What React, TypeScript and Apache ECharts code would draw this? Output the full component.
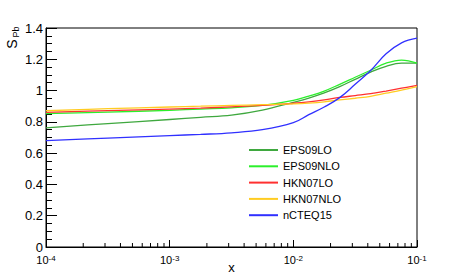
import React, { useEffect, useRef } from "react";
import * as echarts from "echarts";

const xValues = [1e-4, 3.162e-4, 1e-3, 1.778e-3, 3.162e-3, 5.623e-3, 1e-2, 1.334e-2, 1.778e-2, 2.371e-2, 3.162e-2, 4.217e-2, 5.623e-2, 7.499e-2, 1e-1];
const eps09lo = [0.761, 0.789, 0.815, 0.829, 0.843, 0.875, 0.925, 0.952, 0.985, 1.025, 1.072, 1.118, 1.155, 1.175, 1.175];
const eps09nlo = [0.852, 0.862, 0.874, 0.882, 0.89, 0.905, 0.937, 0.965, 0.997, 1.04, 1.085, 1.13, 1.175, 1.195, 1.175];
const hkn07lo = [0.861, 0.872, 0.882, 0.888, 0.896, 0.905, 0.919, 0.928, 0.94, 0.956, 0.968, 0.98, 0.997, 1.015, 1.033];
const hkn07nlo = [0.871, 0.884, 0.895, 0.9, 0.905, 0.91, 0.915, 0.92, 0.928, 0.94, 0.951, 0.963, 0.983, 1.003, 1.025];
const ncteq15 = [0.68, 0.696, 0.712, 0.72, 0.73, 0.75, 0.795, 0.846, 0.895, 0.955, 1.04, 1.128, 1.235, 1.305, 1.335];

const seriesNames = ["EPS09LO", "EPS09NLO", "HKN07LO", "HKN07NLO", "nCTEQ15"];
const seriesColors = ["#3fa83f", "#2bf02b", "#ff3030", "#ffcc22", "#3030ff"];
const seriesValues = [eps09lo, eps09nlo, hkn07lo, hkn07nlo, ncteq15];

const minorMantissas = [2, 3, 4, 5, 6, 7, 8, 9];
const decades = [1e-4, 1e-3, 1e-2];
const xMinorTicks = decades.flatMap((d) => minorMantissas.map((m) => m * d));

const FONT = "Liberation Sans, Arial, Helvetica, sans-serif";

export default function App() {
  const ref = useRef<HTMLDivElement>(null);
  useEffect(() => {
    if (!ref.current) return;
    const chart = echarts.init(ref.current, undefined, { renderer: "svg" });
    const lineSeries = seriesNames.map((name, i) => ({
      name,
      type: "line",
      data: xValues.map((x, j) => [x, seriesValues[i][j]]),
      symbol: "none",
      smooth: 0.4,
      lineStyle: { color: seriesColors[i], width: 1.3 },
      itemStyle: { color: seriesColors[i] },
      z: 3,
    }));
    chart.setOption({
      animation: false,
      textStyle: { fontFamily: FONT },
      grid: {
        left: 46,
        right: 46,
        top: 28,
        bottom: 28,
        show: true,
        borderColor: "#000",
        borderWidth: 1,
        containLabel: false,
        outerBoundsMode: "none",
      },
      legend: {
        data: seriesNames.map((name) => ({ name, icon: "rect" })),
        orient: "vertical",
        left: 249,
        top: 144,
        padding: 0,
        itemWidth: 29,
        itemHeight: 2,
        itemGap: 4.3,
        textStyle: { fontSize: 11, color: "#000", fontFamily: FONT, lineHeight: 12 },
      },
      xAxis: {
        type: "log",
        logBase: 10,
        min: 1e-4,
        max: 1e-1,
        name: "x",
        nameLocation: "middle",
        nameGap: 15,
        nameMoveOverlap: false,
        nameTextStyle: { fontSize: 13, lineHeight: 10, color: "#000", fontFamily: FONT },
        axisLine: { lineStyle: { color: "#000", width: 1 } },
        axisTick: { show: true, inside: true, length: 7, lineStyle: { color: "#000" } },
        splitLine: { show: false },
        axisLabel: {
          color: "#000",
          fontSize: 11,
          margin: 7,
          formatter: (v: number) => "10{sup|" + Math.round(Math.log10(v)) + "}",
          rich: {
            sup: { fontSize: 8, verticalAlign: "top", lineHeight: 8, padding: [0, 0, 5, 0], color: "#000" },
          },
        },
      },
      yAxis: {
        type: "value",
        min: 0,
        max: 1.4,
        interval: 0.2,
        axisLine: { show: true, lineStyle: { color: "#000", width: 1 } },
        axisTick: { show: true, inside: true, length: 11, lineStyle: { color: "#000" } },
        minorTick: { show: true, splitNumber: 4, length: 6, lineStyle: { color: "#000" } },
        splitLine: { show: false },
        axisLabel: { color: "#000", fontSize: 13, margin: 3 },
      },
      series: [
        ...lineSeries,
        {
          type: "custom",
          name: "minorTicks",
          silent: true,
          clip: false,
          data: xMinorTicks.map((x) => [x, 0]),
          renderItem: (params: any, api: any) => {
            const p = api.coord([api.value(0), 0]);
            return {
              type: "line",
              shape: { x1: p[0], y1: p[1], x2: p[0], y2: p[1] - 4 },
              style: { stroke: "#000", lineWidth: 1 },
            };
          },
          z: 2,
        },
      ],
      graphic: [
        {
          type: "text",
          x: 12,
          y: 44,
          rotation: Math.PI / 2,
          style: { text: "S", fontSize: 14, fontFamily: FONT, fill: "#000", textAlign: "center", textVerticalAlign: "middle" },
        },
        {
          type: "text",
          x: 16,
          y: 32,
          rotation: Math.PI / 2,
          style: { text: "Pb", fontSize: 9, fontFamily: FONT, fill: "#000", textAlign: "center", textVerticalAlign: "middle" },
        },
      ],
    });
    return () => chart.dispose();
  }, []);
  return <div ref={ref} style={{ width: 463, height: 275, position: "absolute", left: 0, top: 0 }} />;
}
